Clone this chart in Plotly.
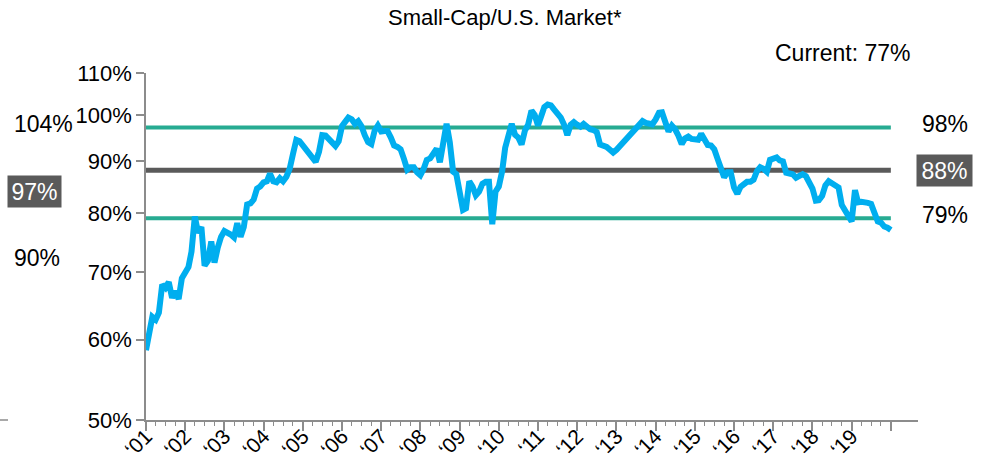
import math
import pandas as pd
import plotly.graph_objects as go

# ---------------- data ----------------
dates = pd.date_range("2001-01-01", periods=229, freq="MS")

ratio = [
    # 2001
    58.6, 61.5, 63.2, 62.8, 63.8, 68.0, 67.5, 68.4, 66.0, 67.0, 65.8, 69.0,
    # 2002
    69.7, 70.8, 73.3, 79.4, 76.5, 77.5, 71.0, 71.8, 75.0, 71.5, 74.0, 75.8,
    # 2003
    76.8, 76.6, 76.2, 75.7, 78.2, 75.8, 77.5, 81.6, 81.8, 82.5, 84.6, 85.0,
    # 2004
    85.8, 86.0, 87.5, 86.0, 85.8, 86.6, 86.0, 86.9, 88.5, 91.5, 94.5, 94.2,
    # 2005
    93.4, 92.6, 91.8, 90.8, 89.9, 92.0, 95.5, 95.4, 94.7, 93.8, 93.2, 94.2,
    # 2006
    97.5, 98.5, 99.4, 99.0, 98.0, 98.6, 97.5, 95.5, 94.0, 93.6, 96.5, 97.6,
    # 2007
    96.3, 96.4, 96.4, 95.0, 93.3, 93.0, 92.5, 90.5, 88.3, 88.8, 88.8, 87.8,
    # 2008
    87.2, 88.5, 90.3, 90.6, 91.5, 92.6, 89.8, 94.5, 98.0, 94.0, 87.9, 87.4,
    # 2009
    84.0, 80.6, 80.9, 86.0, 85.0, 83.3, 84.0, 85.5, 85.9, 85.9, 78.0, 84.0,
    # 2010
    85.0, 88.0, 92.8, 95.5, 98.0, 95.6, 95.0, 93.5, 96.5, 97.8, 101.0, 100.0,
    # 2011
    97.6, 99.8, 101.8, 102.4, 102.2, 101.2, 100.3, 99.4, 97.8, 95.5, 97.8, 98.4,
    # 2012
    97.8, 97.4, 98.0, 97.2, 96.8, 96.6, 96.2, 93.5, 93.3, 93.0, 92.4, 91.8,
    # 2013
    92.4, 93.2, 94.0, 94.8, 95.3, 96.2, 97.2, 98.0, 98.6, 98.2, 98.0, 97.9,
    # 2014
    99.0, 100.5, 100.6, 98.2, 96.3, 97.6, 96.8, 95.4, 93.6, 94.8, 95.2, 94.7,
    # 2015
    94.5, 94.5, 95.8, 94.5, 93.4, 93.3, 92.5, 90.5, 88.3, 86.8, 87.8, 87.8,
    # 2016
    84.8, 83.6, 84.9, 85.3, 85.9, 85.9, 86.3, 88.0, 88.8, 88.5, 87.9, 90.3,
    # 2017
    90.7, 90.8, 90.2, 90.0, 87.7, 87.5, 87.4, 86.7, 87.0, 87.4, 87.0, 86.0,
    # 2018
    84.6, 82.3, 82.4, 83.2, 85.2, 86.0, 85.6, 85.3, 84.8, 81.5, 80.5, 79.4,
    # 2019
    78.5, 84.3, 82.0, 82.1, 82.1, 81.9, 81.7, 80.0, 78.5, 78.3, 77.6, 77.4,
    # 2020
    77.0,
]

band_values = [97.2, 88.2, 79.1]
band_labels = ["98%", "88%", "79%"]
band_start = "2001-01-01"
band_end = "2020-01-01"

y_tick_values = [50, 60, 70, 80, 90, 100, 110]
y_tick_labels = ["50%", "60%", "70%", "80%", "90%", "100%", "110%"]

year_tick_values = [f"{y}-01-01" for y in range(2001, 2021)]
year_tick_labels = ["‘%02d" % (y % 100) for y in range(2001, 2020)] + [""]
quarter_tick_values = [d.strftime("%Y-%m-%d") for d in pd.date_range("2001-04-01", "2019-10-01", freq="QS")]

title_text = "Small-Cap/U.S. Market*"
current_text = "Current: 77%"
left_labels = ["104%", "90%"]
left_box_label = "97%"

# ---------------- styles ----------------
BLUE = "#00aeef"
GREEN = "#27ab92"
DARK = "#5a5a5a"
AXIS = "#8c8c8c"
FONT = "Liberation Sans, Arial, sans-serif"

L, R, T, B = 146, 68, 73, 40
W, H = 986, 460
PW, PH = W - L - R, H - T - B


def px_x(p):
    return (p - L) / PW


def px_y(p):
    return (H - B - p) / PH


fig = go.Figure()

band_colors = [GREEN, DARK, GREEN]
band_widths = [4, 5, 4]
for v, c, w in zip(band_values, band_colors, band_widths):
    fig.add_trace(go.Scatter(
        x=[band_start, band_end], y=[v, v], mode="lines",
        line=dict(color=c, width=w), hoverinfo="skip", showlegend=False,
    ))

fig.add_trace(go.Scatter(
    x=dates, y=ratio, mode="lines",
    line=dict(color=BLUE, width=6, shape="linear"),
    showlegend=False,
))

annotations = []
# right-side band labels
for v, lab in zip(band_values, band_labels):
    is_mid = lab == band_labels[1]
    ann = dict(
        x=px_x(945), xref="paper", y=math.log10(v), yref="y",
        text=lab, showarrow=False, xanchor="center", yanchor="middle",
        font=dict(family=FONT, size=23, color="white" if is_mid else "black"),
        yshift=0 if is_mid else 3,
    )
    if is_mid:
        ann.update(bgcolor=DARK, width=55, height=31, borderpad=0)
    annotations.append(ann)

# title & current
annotations.append(dict(
    x=px_x(505), xref="paper", y=px_y(17), yref="paper", text=title_text,
    showarrow=False, xanchor="center", yanchor="middle",
    font=dict(family=FONT, size=22, color="black"),
))
annotations.append(dict(
    x=px_x(913), xref="paper", y=px_y(53), yref="paper", text=current_text,
    showarrow=False, xanchor="right", yanchor="middle",
    font=dict(family=FONT, size=23, color="black"),
))

# fragments of neighbouring chart at the left edge
annotations.append(dict(
    x=px_x(12), xref="paper", y=px_y(124), yref="paper", text=left_labels[0],
    showarrow=False, xanchor="left", yanchor="middle",
    font=dict(family=FONT, size=23, color="black"),
))
annotations.append(dict(
    x=px_x(12), xref="paper", y=px_y(258), yref="paper", text=left_labels[1],
    showarrow=False, xanchor="left", yanchor="middle",
    font=dict(family=FONT, size=23, color="black"),
))
annotations.append(dict(
    x=px_x(34.5), xref="paper", y=px_y(191.5), yref="paper", text=left_box_label,
    showarrow=False, xanchor="center", yanchor="middle",
    font=dict(family=FONT, size=23, color="white"),
    bgcolor=DARK, width=53, height=31, borderpad=0,
))

shapes = [dict(
    type="line", xref="paper", yref="paper",
    x0=px_x(0), x1=px_x(8), y0=0, y1=0,
    line=dict(color=AXIS, width=1.5),
)]

fig.update_layout(
    width=W, height=H,
    margin=dict(l=L, r=R, t=T, b=B, autoexpand=False),
    paper_bgcolor="white", plot_bgcolor="white",
    font=dict(family=FONT, size=21, color="black"),
    annotations=annotations, shapes=shapes,
    showlegend=False,
    xaxis=dict(
        type="date", range=["2001-01-01", "2020-09-10"], automargin=False,
        showline=True, linecolor=AXIS, linewidth=1.5,
        showgrid=False, zeroline=False,
        tickmode="array", tickvals=year_tick_values, ticktext=year_tick_labels,
        ticks="outside", ticklen=9, tickwidth=1.5, tickcolor=AXIS,
        tickangle=-45, tickfont=dict(family=FONT, size=21, color="black"),
        ticklabelstandoff=-15,
        minor=dict(tickmode="array", tickvals=quarter_tick_values,
                   ticks="outside", ticklen=4, tickwidth=1, tickcolor=AXIS,
                   showgrid=False),
    ),
    yaxis=dict(
        type="log", range=[math.log10(50), math.log10(110)], automargin=False,
        showline=True, linecolor=AXIS, linewidth=1.5,
        showgrid=False, zeroline=False,
        tickmode="array", tickvals=y_tick_values, ticktext=y_tick_labels,
        ticks="outside", ticklen=8, tickwidth=1.5, tickcolor=AXIS,
        tickfont=dict(family=FONT, size=22, color="black"),
    ),
)

fig.write_html(
    "out.html",
    config={"displayModeBar": False},
    post_script="document.body.style.margin='0';document.body.style.overflow='hidden';",
)
